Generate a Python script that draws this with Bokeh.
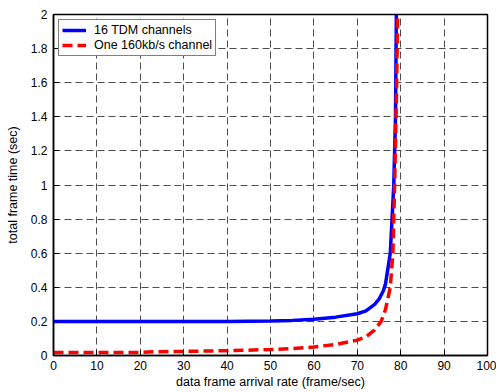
from bokeh.plotting import figure
from bokeh.models import FixedTicker, Range1d, Legend, LegendItem
from bokeh.embed import file_html
from bokeh.resources import INLINE

# Data
tdm_x = [0, 10, 20, 30, 40, 50, 55, 60, 65, 70, 72, 74, 75, 76, 76.5, 77.6, 78.0, 78.4, 78.8, 79.0]
tdm_y = [0.2, 0.2, 0.2, 0.2, 0.2, 0.203, 0.206, 0.213, 0.225, 0.245, 0.262, 0.3, 0.33, 0.38, 0.42, 0.6, 0.8, 1.0, 1.4, 2.0]

one_x = [0, 10, 20, 23, 30, 40, 50, 55, 60, 65, 70, 72, 74, 75.5, 76.5, 77.6, 78.2, 78.6, 79.0, 79.3]
one_y = [0.017, 0.017, 0.018, 0.022, 0.024, 0.028, 0.035, 0.04, 0.05, 0.065, 0.09, 0.11, 0.15, 0.2, 0.27, 0.4, 0.6, 1.0, 1.5, 2.0]

x_ticks = [0, 10, 20, 30, 40, 50, 60, 70, 80, 90, 100]
y_ticks = [0, 0.2, 0.4, 0.6, 0.8, 1.0, 1.2, 1.4, 1.6, 1.8, 2.0]
y_tick_labels = ["0", "0.2", "0.4", "0.6", "0.8", "1", "1.2", "1.4", "1.6", "1.8", "2"]

series_names = ["16 TDM channels", "One 160kb/s channel"]

FONT = "Liberation Sans"

p = figure(width=496, height=392, output_backend="svg", toolbar_location=None,
           x_range=Range1d(0, 100), y_range=Range1d(0, 2),
           min_border_left=53, min_border_right=9, min_border_top=14, min_border_bottom=37,
           x_axis_label="data frame arrival rate (frame/sec)",
           y_axis_label="total frame time (sec)")
p.outline_line_color = "black"
p.outline_line_width = 1.5
p.background_fill_color = "white"

for ax in p.xaxis:
    ax.ticker = FixedTicker(ticks=x_ticks)
for ax in p.yaxis:
    ax.ticker = FixedTicker(ticks=y_ticks)
    ax.major_label_overrides = {t: l for t, l in zip(y_ticks, y_tick_labels)}

for ax in list(p.xaxis) + list(p.yaxis):
    ax.major_tick_in = 5
    ax.major_tick_out = 0
    ax.minor_tick_in = 0
    ax.minor_tick_out = 0
    ax.axis_line_color = "black"
    ax.axis_line_width = 1.5
    ax.major_tick_line_color = "black"
    ax.major_label_text_font = FONT
    ax.major_label_text_font_size = "12px"
    ax.major_label_text_color = "black"
    ax.axis_label_text_font = FONT
    ax.axis_label_text_font_size = "12.5px"
    ax.axis_label_text_font_style = "normal"
    ax.axis_label_text_color = "black"
p.xaxis.major_label_standoff = 5
p.xaxis.axis_label_standoff = 2
p.yaxis.major_label_standoff = 6
p.yaxis.axis_label_standoff = 8

p.xgrid.ticker = FixedTicker(ticks=x_ticks)
p.ygrid.ticker = FixedTicker(ticks=y_ticks)
for g in (p.xgrid, p.ygrid):
    g.grid_line_color = "#4d4d4d"
    g.grid_line_dash = "7 4"
    g.grid_line_width = 1
    g.grid_line_alpha = 1

r1 = p.line(tdm_x, tdm_y, line_color="#0000ff", line_width=3.5)
r2 = p.line(one_x, one_y, line_color="#ff0000", line_width=3.5, line_dash="10 5")

legend = Legend(items=[LegendItem(label=series_names[0], renderers=[r1]),
                       LegendItem(label=series_names[1], renderers=[r2])],
                location="top_left")
legend.border_line_color = "black"
legend.border_line_width = 1
legend.label_text_font = FONT
legend.label_text_font_size = "12.5px"
legend.label_text_color = "black"
legend.glyph_width = 24
legend.glyph_height = 14
legend.spacing = 1
legend.padding = 3
legend.margin = 5
legend.label_standoff = 8
legend.label_height = 14
legend.background_fill_alpha = 1
p.add_layout(legend)

open("out.html", "w").write(file_html(p, INLINE))
